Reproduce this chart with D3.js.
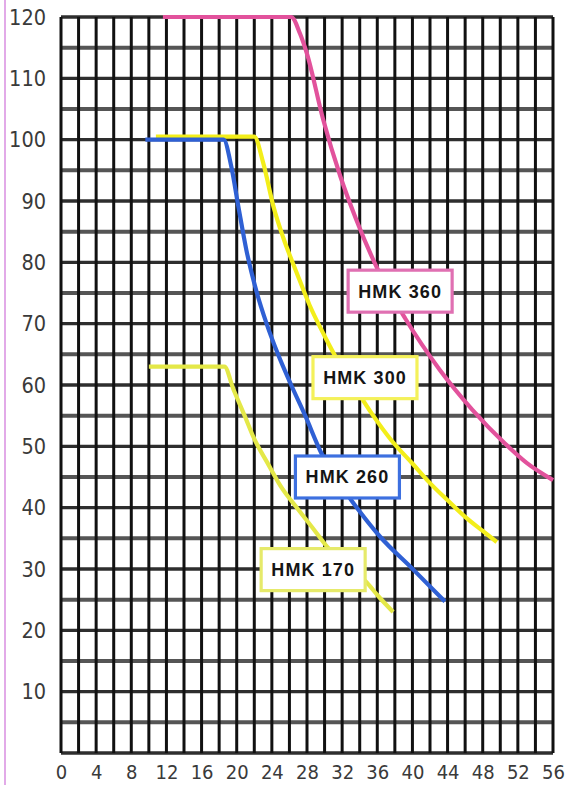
<!DOCTYPE html>
<html><head><meta charset="utf-8">
<script src="https://cdn.jsdelivr.net/npm/d3@7"></script>
<style>html,body{margin:0;padding:0;background:#fff;}svg{display:block}</style>
</head><body>
<svg id="c" width="568" height="785"></svg>
<script>
// ---- data ----
const xTickLabels = [0,4,8,12,16,20,24,28,32,36,40,44,48,52,56];
const yTickLabels = [10,20,30,40,50,60,70,80,90,100,110,120];
const xGridValues = d3.range(0, 57, 2);
const yGridValues = d3.range(0, 121, 5);

const seriesNames = ["HMK 360", "HMK 300", "HMK 260", "HMK 170"];
const hmk360 = [[11.6,120],[26.2,120],[27.2,117.3],[28,114],[29.8,103.5],[31.8,94],[33.6,87],[36,79],[39.2,70.8],[43.1,62.5],[46.8,56],[50.5,50.5],[53,47.3],[56,44.5]];
const hmk300 = [[10.8,100.5],[22,100.5],[23,96.3],[24.2,89],[25.3,84],[26.8,78.4],[28.3,73],[30,68],[31.5,64],[33.5,59.5],[35.3,55.5],[37.6,51],[40,47.2],[42,44],[44,41.2],[46,38.5],[48,36.2],[49.6,34.4]];
const hmk260 = [[9.6,100],[18.5,100],[19.4,95.5],[20.2,89],[21.1,82],[22.3,75],[23.4,70],[24.7,65],[26.2,60],[27.8,55],[29.6,49],[31.2,45],[33,41.3],[36.3,35.3],[40.1,29.9],[43.7,24.7]];
const hmk170 = [[10,63],[18.6,63],[19.6,59.4],[20.9,55],[22,51.2],[23.5,47.3],[25,43.5],[27,39.7],[28.8,36.4],[30.3,33.6],[32.5,30.4],[34.8,27.8],[36.1,25.6],[37.8,23]];
const labelX = [38.6, 34.6, 32.6, 28.7];
const labelY = [75.3, 61.2, 45.0, 29.9];

// ---- styles ----
const lineColors = ["#e2529c", "#f3ee1a", "#2f60d4", "#e4e848"];
const boxColors  = ["#e070b2", "#f4f15a", "#3d70e0", "#e6ea6a"];

const W = 568, H = 785;
const m = {left: 61, right: 15, top: 17, bottom: 32};
const svg = d3.select("#c");

const x = d3.scaleLinear().domain([0, 56]).range([m.left, W - m.right]);
const y = d3.scaleLinear().domain([0, 120]).range([H - m.bottom, m.top]);

// scan artefact line at far left
svg.append("line").attr("x1", 5).attr("x2", 5).attr("y1", 0).attr("y2", H)
  .attr("stroke", "#d98ee0").attr("stroke-width", 1.5);

const g = svg.append("g");

// horizontal grid
g.selectAll("line.h").data(yGridValues).join("line").attr("class", "h")
  .attr("x1", x(0)).attr("x2", x(56))
  .attr("y1", d => y(d)).attr("y2", d => y(d))
  .attr("stroke", d => d % 10 === 0 ? "#2e2e2e" : "#555")
  .attr("stroke-width", d => d % 10 === 0 ? 3.3 : 4);

// vertical grid
g.selectAll("line.v").data(xGridValues).join("line").attr("class", "v")
  .attr("x1", d => x(d)).attr("x2", d => x(d))
  .attr("y1", y(120)).attr("y2", y(0))
  .attr("stroke", "#111").attr("stroke-width", 3);

// axes labels using d3 axes (no domain/ticks lines)
const fontTick = "'Liberation Sans Narrow','DejaVu Sans Condensed','Arial Narrow',sans-serif";
const xAxis = svg.append("g").attr("transform", `translate(0,${y(0)})`)
  .call(d3.axisBottom(x).tickValues(xTickLabels).tickSize(0).tickPadding(14));
xAxis.select(".domain").remove();
xAxis.selectAll("text").attr("font-family", fontTick).attr("font-size", 20)
  .attr("fill", "#3a3a3a").attr("dy", "0.62em");

const yAxis = svg.append("g").attr("transform", `translate(46,0)`)
  .call(d3.axisLeft(y).tickValues(yTickLabels).tickSize(0).tickPadding(0));
yAxis.select(".domain").remove();
yAxis.selectAll("text").attr("font-family", fontTick).attr("font-size", 21.5)
  .attr("fill", "#3a3a3a").attr("dy", "0.34em");

// curves
const allSeries = [hmk360, hmk300, hmk260, hmk170];
const line = d3.line().x(d => x(d[0])).y(d => y(d[1])).curve(d3.curveMonotoneX);
svg.selectAll("path.s").data(allSeries).join("path").attr("class", "s")
  .attr("d", line).attr("fill", "none")
  .attr("stroke", (d, i) => lineColors[i]).attr("stroke-width", 4.2)
  .attr("stroke-linecap", "butt").attr("stroke-linejoin", "round");

// label boxes
const bw = 104, bh = 42;
const lg = svg.selectAll("g.lab").data(seriesNames).join("g").attr("class", "lab")
  .attr("transform", (d, i) => `translate(${x(labelX[i])},${y(labelY[i])})`);
lg.append("rect").attr("x", -bw / 2).attr("y", -bh / 2).attr("width", bw).attr("height", bh)
  .attr("fill", "#fff").attr("stroke", (d, i) => boxColors[i]).attr("stroke-width", 3.2);
lg.append("text").text(d => d).attr("text-anchor", "middle").attr("dy", "0.36em")
  .attr("font-family", "'Liberation Sans',Arial,sans-serif").attr("font-weight", "bold")
  .attr("font-size", 18).attr("letter-spacing", 1.1).attr("fill", "#151515");
</script>
</body></html>
